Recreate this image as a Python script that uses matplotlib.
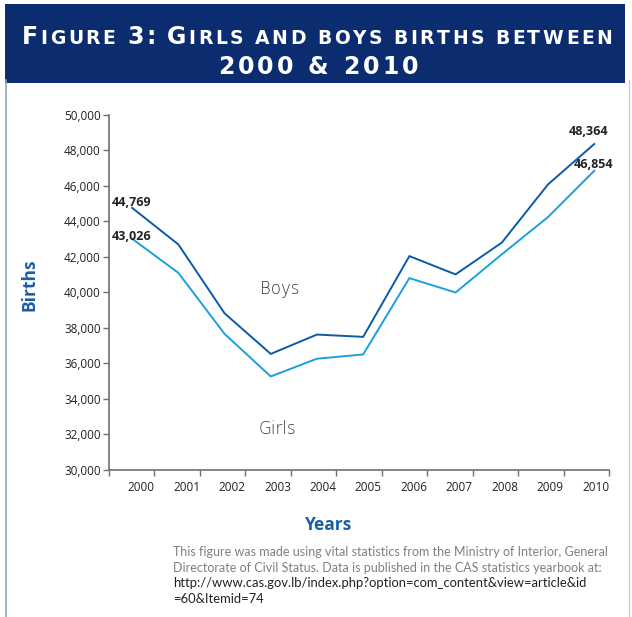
import matplotlib
matplotlib.use("Agg")
import matplotlib.pyplot as plt
from matplotlib.patches import Rectangle
from matplotlib.lines import Line2D

years = ["2000", "2001", "2002", "2003", "2004", "2005", "2006", "2007", "2008", "2009", "2010"]
boys = [44769, 42710, 38830, 36540, 37630, 37500, 42050, 41020, 42810, 46090, 48364]
girls = [43026, 41110, 37670, 35270, 36270, 36510, 40810, 40000, 42150, 44250, 46854]
yticks = [30000, 32000, 34000, 36000, 38000, 40000, 42000, 44000, 46000, 48000, 50000]

W, H = 632, 617
fig = plt.figure(figsize=(W / 100, H / 100), dpi=100)
plt.rcParams['font.family'] = ['Open Sans', 'DejaVu Sans']

def fx(px):
    return px / W

def fy(py):
    return 1 - py / H

# page borders
fig.add_artist(Line2D([fx(6), fx(6)], [fy(80), 0], color="#8ea3c4", lw=1.2))
fig.add_artist(Line2D([fx(628.5), fx(628.5)], [fy(80), 0], color="#c8d0dc", lw=1.0))

# title banner
fig.add_artist(Rectangle((fx(5), fy(82.5)), fx(625) - fx(5), fy(4) - fy(82.5),
                         transform=fig.transFigure, facecolor="#0b2d6f", edgecolor="none"))

renderer = fig.canvas.get_renderer()

def draw_chunks(chunks, ypx, x0px, x1px, color="white"):
    texts = []
    for ch, size in chunks:
        t = fig.text(0, fy(ypx), ch, fontsize=size, color=color, ha="left", va="baseline",
                     family="DejaVu Sans", fontweight="bold")
        texts.append(t)
    widths = []
    for t in texts:
        bb = t.get_window_extent(renderer=renderer)
        widths.append(bb.width)
    total = sum(widths)
    n = len(texts)
    track = (x1px - x0px - total) / max(n - 1, 1)
    x = x0px
    for t, w in zip(texts, widths):
        t.set_x(fx(x))
        x += w + track

big, small = 17, 13.5
line1 = "Figure 3: Girls and boys births between"
chunks = []
for ch in line1:
    if ch.isupper() or ch.isdigit() or ch == ":":
        chunks.append((ch.upper(), big))
    else:
        chunks.append((ch.upper(), small))
draw_chunks(chunks, 44.5, 22, 612)
draw_chunks([(c, big) for c in "2000 & 2010"], 74.5, 218, 418)

# axes
ax = fig.add_axes([fx(109), fy(470), fx(609) - fx(109), fy(115) - fy(470)])
x = list(range(len(years)))
ax.plot(x, boys, color="#0b5aa8", lw=1.4, solid_joinstyle="miter")
ax.plot(x, girls, color="#1aa0de", lw=1.4, solid_joinstyle="miter")

ax.set_xlim(-0.5, 10.32)
ax.set_ylim(30000, 50000)
ax.set_yticks(yticks)
ax.set_yticklabels([f"{v:,}" for v in yticks], fontsize=8.5, color="#222222")
step = (10.32 + 0.5) / 11
tickpos = [-0.5 + k * step for k in range(12)]
ax.set_xticks(tickpos)
ax.set_xticklabels([])
for i, lab in enumerate(years):
    ax.text(tickpos[i + 1] - 0.29, -0.05, lab, transform=ax.get_xaxis_transform(),
            ha="center", va="center", fontsize=8.5, color="#222222")

for s in ["top", "right"]:
    ax.spines[s].set_visible(False)
for s in ["left", "bottom"]:
    ax.spines[s].set_color("#707070")
    ax.spines[s].set_linewidth(1.2)
ax.tick_params(axis="both", length=4, width=1.0, color="#707070", direction="out")
ax.tick_params(axis="y", pad=2)

# data labels
lab_kw = dict(fontsize=9, fontweight="bold", color="#222222", va="center", ha="left", clip_on=False)
ax.text(-0.43, 45050, f"{boys[0]:,}", **lab_kw)
ax.text(-0.43, 43180, f"{girls[0]:,}", **lab_kw)
ax.text(9.44, 49060, f"{boys[-1]:,}", **lab_kw)
ax.text(9.55, 47230, f"{girls[-1]:,}", **lab_kw)

ser_kw = dict(fontsize=12, color="#333333", ha="center", va="center", family="DejaVu Sans",
              fontweight="light")
ax.text(3.2, 40170, "Boys", **ser_kw)
ax.text(3.14, 32320, "Girls", **ser_kw)

# axis titles
fig.text(fx(30), fy(285), "Births", rotation=90, fontsize=12.5, fontweight="bold",
         color="#1b5ea8", ha="center", va="center")
fig.text(fx(329), fy(525), "Years", fontsize=12.5, fontweight="bold",
         color="#1b5ea8", ha="center", va="center")

# footnote
foot = [
    ("This figure was made using vital statistics from the Ministry of Interior, General", "#808080", 9.0),
    ("Directorate of Civil Status. Data is published in the CAS statistics yearbook at:", "#808080", 9.0),
    ("http://www.cas.gov.lb/index.php?option=com_content&view=article&id", "#222222", 9.4),
    ("=60&Itemid=74", "#222222", 9.4),
]
for i, (s, c, fs) in enumerate(foot):
    fig.text(fx(173), fy(552 + i * 15.6), s, fontsize=fs, color=c, ha="left", va="center",
             family=["Lato", "DejaVu Sans"])

fig.savefig("out.png", dpi=100, facecolor="white")
